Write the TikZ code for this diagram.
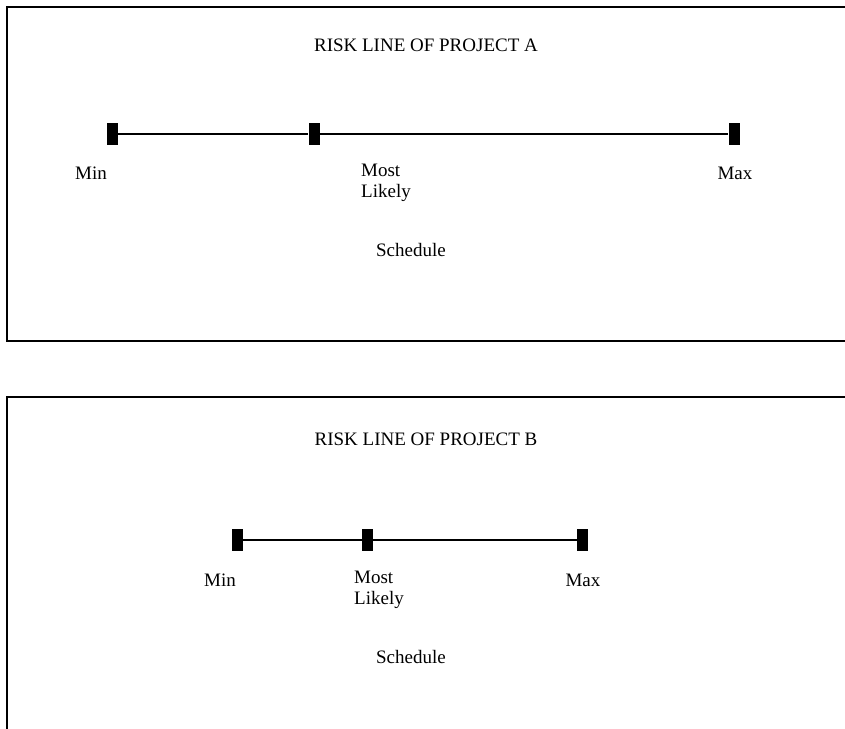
\documentclass[tikz,border=0pt]{standalone}
\usepackage{fontspec}
\setmainfont{Liberation Serif}
\begin{document}
\begin{tikzpicture}[x=1pt,y=-1pt,
  frame/.style={draw,line width=1.6pt},
  tick/.style={fill=black,inner sep=0pt,minimum width=11pt,minimum height=22pt},
  span/.style={line width=1.4pt},
  lbl/.style={font=\fontsize{19}{21}\selectfont,inner sep=0pt},
  lblleft/.style={lbl,anchor=west,align=left}]
\useasboundingbox (0,0) rectangle (845,728);
% panel A
\draw[frame] (860,7) -- (7,7) -- (7,341) -- (860,341);
\node[lbl] (titleA) at (426,45) {RISK LINE OF PROJECT A};
\node[tick] (minA) at (112.5,134) {};
\node[tick] (mlA) at (314,134) {};
\node[tick] (maxA) at (734,134) {};
\draw[span] (minA) -- (mlA);
\draw[span] (mlA) -- (maxA);
\node[lbl] (minAl) at (91,173) {Min};
\node[lblleft] (mlAl) at (361,183) {Most\\Likely};
\node[lbl] (maxAl) at (735,173) {Max};
\node[lbl] (schA) at (411,250) {Schedule};
% panel B
\draw[frame] (860,397) -- (7,397) -- (7,740);
\node[lbl] (titleB) at (426,439) {RISK LINE OF PROJECT B};
\node[tick] (minB) at (237.5,540) {};
\node[tick] (mlB) at (367.5,540) {};
\node[tick] (maxB) at (582.5,540) {};
\draw[span] (minB) -- (mlB);
\draw[span] (mlB) -- (maxB);
\node[lbl] (minBl) at (220,580) {Min};
\node[lblleft] (mlBl) at (354,590) {Most\\Likely};
\node[lbl] (maxBl) at (583,580) {Max};
\node[lbl] (schB) at (411,657) {Schedule};
\end{tikzpicture}
\end{document}
